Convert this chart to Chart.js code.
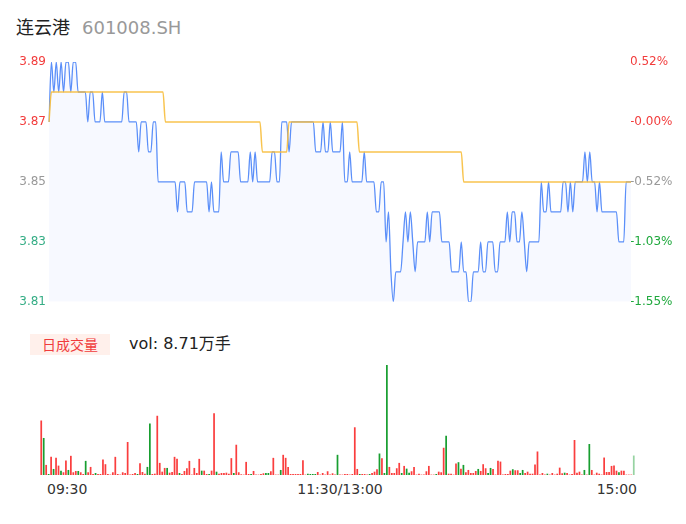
<!DOCTYPE html>
<html>
<head>
<meta charset="utf-8">
<script src="https://cdn.jsdelivr.net/npm/chart.js@4.4.0/dist/chart.umd.min.js"></script>
<style>
    body { margin: 0; background: #fff; font-family: "DejaVu Sans", sans-serif; }
    #tela { position: relative; width: 686px; height: 524px; overflow: hidden; }
    #titulo { position: absolute; left: 16px; top: 17px; font-size: 18px; line-height: 18px; white-space: pre; }
    #titulo .nome { font-family: "Noto Sans CJK SC", sans-serif; color: #222; }
    #titulo .codigo { color: #999; margin-left: 12px; }
    #graficoPreco { position: absolute; left: 0; top: 0; }
    #graficoVolume { position: absolute; left: 40px; top: 364px; }
    #rotuloVolume { position: absolute; left: 30px; top: 334px; width: 80px; height: 21px; background: #fff0eb;
        color: #f03c3c; font-family: "Noto Sans CJK SC", sans-serif; font-size: 14px; line-height: 21px; text-align: center; }
    #totalVolume { position: absolute; left: 129px; top: 332px; font-size: 16px; line-height: 20px; color: #222; }
    #totalVolume span { font-family: "Noto Sans CJK SC", sans-serif; }
    .hora { position: absolute; top: 481px; font-size: 14px; line-height: 16px; color: #333; white-space: pre; }
</style>
</head>
<body>
<div id="tela">
    <div id="titulo"><span class="nome">连云港</span><span class="codigo">601008.SH</span></div>
    <canvas id="graficoPreco" width="686" height="312"></canvas>
    <div id="rotuloVolume">日成交量</div>
    <div id="totalVolume">vol: 8.71<span>万手</span></div>
    <canvas id="graficoVolume" width="595" height="111"></canvas>
    <div id="horas"></div>
</div>
<script>
// Dados (1 ponto por minuto, 241 minutos)
const precos = [
    3.87, 3.89, 3.88, 3.89, 3.88, 3.89, 3.88, 3.89, 3.89, 3.88, 3.89, 3.89, 3.88, 3.88, 3.88, 3.88, 3.87, 3.88, 3.88, 3.87,
    3.87, 3.87, 3.88, 3.87, 3.87, 3.87, 3.87, 3.87, 3.87, 3.87, 3.87, 3.88, 3.88, 3.87, 3.87, 3.87, 3.87, 3.86, 3.87, 3.87,
    3.87, 3.86, 3.86, 3.87, 3.87, 3.85, 3.85, 3.85, 3.85, 3.85, 3.85, 3.85, 3.85, 3.84, 3.85, 3.85, 3.85, 3.84, 3.84, 3.84,
    3.85, 3.85, 3.85, 3.85, 3.85, 3.85, 3.84, 3.85, 3.84, 3.84, 3.84, 3.86, 3.85, 3.85, 3.85, 3.86, 3.86, 3.86, 3.86, 3.85,
    3.85, 3.85, 3.85, 3.86, 3.85, 3.86, 3.85, 3.85, 3.85, 3.85, 3.85, 3.85, 3.86, 3.86, 3.85, 3.85, 3.87, 3.87, 3.87, 3.86,
    3.87, 3.87, 3.87, 3.87, 3.87, 3.87, 3.87, 3.87, 3.87, 3.87, 3.86, 3.86, 3.86, 3.87, 3.86, 3.86, 3.87, 3.86, 3.86, 3.86,
    3.86, 3.87, 3.85, 3.85, 3.86, 3.85, 3.85, 3.85, 3.85, 3.85, 3.86, 3.85, 3.85, 3.85, 3.85, 3.84, 3.84, 3.85, 3.85, 3.83,
    3.84, 3.82, 3.81, 3.82, 3.82, 3.82, 3.83, 3.84, 3.83, 3.84, 3.83, 3.82, 3.83, 3.83, 3.83, 3.83, 3.84, 3.83, 3.84, 3.84,
    3.84, 3.84, 3.83, 3.83, 3.83, 3.83, 3.82, 3.82, 3.82, 3.82, 3.83, 3.82, 3.82, 3.81, 3.81, 3.82, 3.82, 3.82, 3.83, 3.82,
    3.82, 3.83, 3.83, 3.83, 3.82, 3.82, 3.83, 3.83, 3.83, 3.84, 3.83, 3.84, 3.84, 3.83, 3.83, 3.84, 3.83, 3.82, 3.83, 3.83,
    3.83, 3.83, 3.83, 3.85, 3.84, 3.84, 3.85, 3.84, 3.84, 3.84, 3.84, 3.84, 3.85, 3.85, 3.84, 3.85, 3.84, 3.85, 3.85, 3.85,
    3.85, 3.86, 3.85, 3.86, 3.85, 3.85, 3.84, 3.85, 3.84, 3.84, 3.84, 3.84, 3.84, 3.84, 3.84, 3.83, 3.83, 3.83, 3.85, 3.85,
    3.85
];

// Preco medio
const medias = [
    3.87, 3.88, 3.88, 3.88, 3.88, 3.88, 3.88, 3.88, 3.88, 3.88, 3.88, 3.88, 3.88, 3.88, 3.88, 3.88, 3.88, 3.88, 3.88, 3.88,
    3.88, 3.88, 3.88, 3.88, 3.88, 3.88, 3.88, 3.88, 3.88, 3.88, 3.88, 3.88, 3.88, 3.88, 3.88, 3.88, 3.88, 3.88, 3.88, 3.88,
    3.88, 3.88, 3.88, 3.88, 3.88, 3.88, 3.88, 3.88, 3.87, 3.87, 3.87, 3.87, 3.87, 3.87, 3.87, 3.87, 3.87, 3.87, 3.87, 3.87,
    3.87, 3.87, 3.87, 3.87, 3.87, 3.87, 3.87, 3.87, 3.87, 3.87, 3.87, 3.87, 3.87, 3.87, 3.87, 3.87, 3.87, 3.87, 3.87, 3.87,
    3.87, 3.87, 3.87, 3.87, 3.87, 3.87, 3.87, 3.87, 3.86, 3.86, 3.86, 3.86, 3.86, 3.86, 3.86, 3.86, 3.86, 3.86, 3.86, 3.87,
    3.87, 3.87, 3.87, 3.87, 3.87, 3.87, 3.87, 3.87, 3.87, 3.87, 3.87, 3.87, 3.87, 3.87, 3.87, 3.87, 3.87, 3.87, 3.87, 3.87,
    3.87, 3.87, 3.87, 3.87, 3.87, 3.87, 3.87, 3.87, 3.86, 3.86, 3.86, 3.86, 3.86, 3.86, 3.86, 3.86, 3.86, 3.86, 3.86, 3.86,
    3.86, 3.86, 3.86, 3.86, 3.86, 3.86, 3.86, 3.86, 3.86, 3.86, 3.86, 3.86, 3.86, 3.86, 3.86, 3.86, 3.86, 3.86, 3.86, 3.86,
    3.86, 3.86, 3.86, 3.86, 3.86, 3.86, 3.86, 3.86, 3.86, 3.86, 3.86, 3.85, 3.85, 3.85, 3.85, 3.85, 3.85, 3.85, 3.85, 3.85,
    3.85, 3.85, 3.85, 3.85, 3.85, 3.85, 3.85, 3.85, 3.85, 3.85, 3.85, 3.85, 3.85, 3.85, 3.85, 3.85, 3.85, 3.85, 3.85, 3.85,
    3.85, 3.85, 3.85, 3.85, 3.85, 3.85, 3.85, 3.85, 3.85, 3.85, 3.85, 3.85, 3.85, 3.85, 3.85, 3.85, 3.85, 3.85, 3.85, 3.85,
    3.85, 3.85, 3.85, 3.85, 3.85, 3.85, 3.85, 3.85, 3.85, 3.85, 3.85, 3.85, 3.85, 3.85, 3.85, 3.85, 3.85, 3.85, 3.85, 3.85,
    3.85
];

// Volume por minuto (estimado pela altura das barras)
const volumes = [
    54, 36.7, 10, 1, 18, 6, 17, 9.3, 4.3, 2.7,
    14.3, 5, 19, 2.7, 4, 4, 2.7, 1, 14, 2.7,
    8, 1, 2, 1, 1, 15.3, 10.7, 1, 0.4, 2.7,
    18, 1, 0.4, 2.7, 2, 32.7, 0.4, 1, 2, 1,
    11.7, 3, 1.3, 8, 51, 1, 1.3, 58.7, 12, 3.3,
    7, 7, 2.3, 3, 18, 16, 2, 1, 4, 6.7,
    14, 0.4, 7, 2, 16, 4.3, 4.3, 1, 1, 4.3,
    61.3, 3.3, 1.3, 2, 2, 2.3, 1.3, 16.7, 2, 30,
    2.7, 0.7, 0.4, 13, 1, 1, 4, 0.4, 0.4, 1,
    1.7, 2, 2, 3.7, 17, 0.4, 0.4, 5, 20, 17,
    8, 1, 1, 1, 1, 1, 14.7, 0.4, 1.3, 1,
    1, 1, 3, 0.4, 2, 0.4, 3.7, 0.4, 1.7, 0.4,
    20, 0.4, 0.4, 1, 1, 0.4, 1, 47.3, 6, 1,
    1, 1, 0.4, 1, 2, 3.3, 5.7, 21.3, 16.7, 2,
    109, 8, 2, 2, 6.7, 12, 2, 9, 6.3, 2.3,
    3.7, 8, 0.4, 1.3, 0.4, 0.4, 3.7, 9, 0.4, 0.4,
    1, 3.3, 2.7, 27, 39, 1.3, 1.3, 0.4, 11.3, 12.7,
    6.3, 10, 2.7, 5, 2, 2, 4, 6, 4, 10.7,
    6.7, 2, 7, 6, 0.4, 14, 13.3, 0.4, 1, 1,
    4.3, 5.7, 4.7, 4.7, 2, 5, 2, 3.3, 1.3, 1.3,
    10.3, 23.3, 0.4, 2, 0.4, 1.3, 0.4, 2, 0.4, 1.3,
    7.3, 1.7, 2.3, 2, 0.4, 1, 34.7, 2.3, 3.3, 0.4,
    5, 0.4, 30.7, 5, 0.4, 2.3, 1.3, 0.4, 17.3, 3,
    3, 9, 9.3, 4.3, 2.7, 4.3, 4.3, 0.4, 0.4, 0.4,
    19.3
];

// R = subiu, G = caiu, g = ultima barra (mais clara)
const direcoes = (
    'RGRGRGRRGR' + 'RGRRRGRRGR' + 'RRGRRRRRRR' + 'RRRRRRRRRG' + 'RRRGGRRRRR' +
    'RGRRRRGRRR' + 'RRRRRGRRGR' + 'RGRRRRRRGR' + 'RRRRRGRRRR' + 'RGGRRRRGRR' +
    'RRRRRRRRGG' + 'GGRRRRRRRR' + 'GRRRRRRRRG' + 'RRRGRRRGRG' + 'GRRRRRGRGG' +
    'RRRRRRRRRR' + 'GRRRGRRRRG' + 'RGRRRRRGRR' + 'RGGRRRRRRR' + 'RGRRGGRRRR' +
    'RRRRRGRRRR' + 'RRGRRRRRRR' + 'GRGRRRRRRR' + 'RRRRGRRRRR' + 'g'
).split('');

// Eixos
const ticksPreco = [3.81, 3.83, 3.85, 3.87, 3.89];
const ticksPct = ['-1.55%', '-1.03%', '-0.52%', '-0.00%', '0.52%'];
const coresTickEsq = ['#35ad85', '#35ad85', '#999999', '#f23c3c', '#f23c3c'];
const coresTickDir = ['#1ea83c', '#1ea83c', '#999999', '#f23c3c', '#f23c3c'];
const horas = ['09:30', '11:30/13:00', '15:00'];

// minutos do pregao
let minutos = [];
for (let i = 0; i < precos.length; i++) {
    let m = i <= 120 ? 570 + i : 780 + (i - 120);
    minutos.push(String(Math.floor(m / 60)).padStart(2, '0') + ':' + String(m % 60).padStart(2, '0'));
}

const coresVolume = direcoes.map(function (d) {
    if (d == 'R') return 'rgb(250, 62, 62)';
    if (d == 'G') return 'rgb(24, 158, 48)';
    return 'rgba(24, 158, 48, 0.45)';
});

// Grafico de preco
new Chart(document.getElementById('graficoPreco'), {
    type: 'line',
    data: {
        labels: minutos,
        datasets: [
            {
                data: medias,
                borderColor: 'rgba(247, 190, 60, 0.9)',
                borderWidth: 1.5,
                fill: false,
                pointRadius: 0,
                cubicInterpolationMode: 'monotone',
                order: 1
            },
            {
                data: precos,
                borderColor: '#5b8ff9',
                borderWidth: 1.3,
                backgroundColor: 'rgba(91, 143, 249, 0.05)',
                fill: 'start',
                pointRadius: 0,
                cubicInterpolationMode: 'monotone',
                order: 2
            }
        ]
    },
    options: {
        responsive: false,
        animation: false,
        layout: { padding: { top: 62, bottom: 10 } },
        plugins: { legend: { display: false }, tooltip: { enabled: false } },
        scales: {
            x: { display: false },
            y: {
                position: 'left',
                min: 3.81,
                max: 3.89,
                grid: { display: false, drawTicks: false },
                border: { display: false },
                afterBuildTicks: function (s) { s.ticks = ticksPreco.map(v => ({ value: v })); },
                afterFit: function (s) { s.width = 49; },
                ticks: {
                    padding: 3,
                    font: { size: 12, family: 'DejaVu Sans' },
                    color: c => coresTickEsq[c.index],
                    callback: v => v.toFixed(2)
                }
            },
            y1: {
                position: 'right',
                min: 3.81,
                max: 3.89,
                grid: { display: false, drawTicks: false },
                border: { display: false },
                afterBuildTicks: function (s) { s.ticks = ticksPreco.map(v => ({ value: v })); },
                afterFit: function (s) { s.width = 55; },
                ticks: {
                    padding: -1,
                    font: { size: 12, family: 'DejaVu Sans' },
                    color: c => coresTickDir[c.index],
                    callback: (v, i) => ticksPct[i]
                }
            }
        }
    }
});

// Grafico de volume
new Chart(document.getElementById('graficoVolume'), {
    type: 'bar',
    data: {
        labels: minutos,
        datasets: [{
            data: volumes,
            backgroundColor: coresVolume,
            barPercentage: 0.7,
            categoryPercentage: 1
        }]
    },
    options: {
        responsive: false,
        animation: false,
        layout: { padding: 0 },
        plugins: { legend: { display: false }, tooltip: { enabled: false } },
        scales: {
            x: {
                grid: { display: false, drawTicks: false },
                ticks: { display: false },
                border: { color: '#e6e6e6' }
            },
            y: { display: false, min: 0, max: 110 }
        }
    }
});

// Horarios do eixo
let divHoras = document.getElementById('horas');
divHoras.innerHTML = `<div class="hora" style="left:47px">${horas[0]}</div>`
    + `<div class="hora" style="left:340px;transform:translateX(-50%)">${horas[1]}</div>`
    + `<div class="hora" style="right:49px">${horas[2]}</div>`;
</script>
</body>
</html>
